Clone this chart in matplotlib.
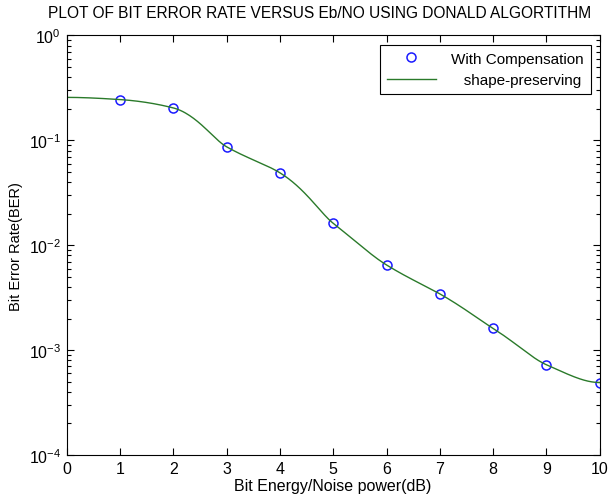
import matplotlib
matplotlib.use('Agg')
import matplotlib.pyplot as plt
import numpy as np
from matplotlib.ticker import LogLocator, FixedLocator

plt.rcParams.update({
    'font.family': ['Liberation Sans', 'DejaVu Sans'],
    'font.size': 10,
    'mathtext.fontset': 'custom',
    'mathtext.rm': 'Liberation Sans',
    'mathtext.it': 'Liberation Sans',
    'mathtext.default': 'regular',
})

# datos
ebno = [0, 1, 2, 3, 4, 5, 6, 7, 8, 9, 10]
ber = [0.257, 0.245, 0.204, 0.0869, 0.0491, 0.0162, 0.00649, 0.00344,
       0.00161, 0.000725, 0.000491]
# los circulos solo van de 1 a 10
marker_x = ebno[1:]
marker_y = ber[1:]


def pchip(x, y, xq):
    # interpolante "shape-preserving" (Fritsch-Carlson), como en MATLAB
    x = np.asarray(x, float)
    y = np.asarray(y, float)
    h = np.diff(x)
    delta = np.diff(y) / h
    n = len(x)
    d = np.zeros(n)
    for k in range(1, n - 1):
        if delta[k - 1] * delta[k] > 0:
            w1 = 2 * h[k] + h[k - 1]
            w2 = h[k] + 2 * h[k - 1]
            d[k] = (w1 + w2) / (w1 / delta[k - 1] + w2 / delta[k])
    def end_slope(h0, h1, del0, del1):
        s = ((2 * h0 + h1) * del0 - h0 * del1) / (h0 + h1)
        if np.sign(s) != np.sign(del0):
            s = 0.0
        elif np.sign(del0) != np.sign(del1) and abs(s) > abs(3 * del0):
            s = 3 * del0
        return s
    d[0] = end_slope(h[0], h[1], delta[0], delta[1])
    d[-1] = end_slope(h[-1], h[-2], delta[-1], delta[-2])
    idx = np.clip(np.searchsorted(x, xq) - 1, 0, n - 2)
    t = (xq - x[idx]) / h[idx]
    h00 = 2 * t**3 - 3 * t**2 + 1
    h10 = t**3 - 2 * t**2 + t
    h01 = -2 * t**3 + 3 * t**2
    h11 = t**3 - t**2
    return (h00 * y[idx] + h10 * h[idx] * d[idx]
            + h01 * y[idx + 1] + h11 * h[idx] * d[idx + 1])


xs = np.linspace(ebno[0], ebno[-1], 400)
ys = pchip(ebno, ber, xs)

fig = plt.figure(figsize=(6.08, 5.02), dpi=100)
ax = fig.add_axes([0.1095, 0.0916, 0.877, 0.8357])

ax.semilogy(marker_x, marker_y, 'o', mfc='none', mec='#1a1aff', ms=6.5,
            mew=1.1, label='With Compensation')
ax.semilogy(xs, ys, '-', color='#2a7a2a', lw=1.0, label='   shape-preserving')

ax.set_xlim(0, 10)
ax.set_ylim(1e-4, 1)
ax.xaxis.set_major_locator(FixedLocator(ebno))
ax.yaxis.set_major_locator(LogLocator(base=10, numticks=10))
ax.yaxis.set_minor_locator(LogLocator(base=10, subs=np.arange(2, 10), numticks=10))

ax.tick_params(which='both', direction='in', top=True, right=True,
               labelsize=11.5, pad=4)
ax.tick_params(which='major', length=5, width=0.8)
ax.tick_params(which='minor', length=3, width=0.8)
for s in ax.spines.values():
    s.set_linewidth(0.8)

ax.set_title('PLOT OF BIT ERROR RATE VERSUS Eb/NO USING DONALD ALGORTITHM',
             fontsize=11.2, pad=13, x=0.475)
ax.set_xlabel('Bit Energy/Noise power(dB)', fontsize=11.5, labelpad=2)
ax.set_ylabel('Bit Error Rate(BER)', fontsize=10.5, labelpad=4)

leg = ax.legend(loc='upper right', fancybox=False, framealpha=1,
                edgecolor='black', fontsize=11, borderaxespad=0.6,
                handlelength=3.2, handletextpad=1.0, borderpad=0.45)
leg.get_frame().set_linewidth(0.8)

fig.savefig('out.png', dpi=100)
plt.close(fig)
